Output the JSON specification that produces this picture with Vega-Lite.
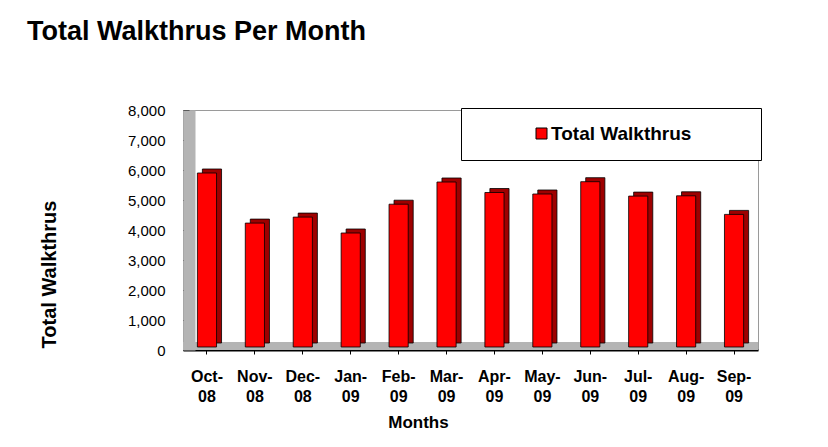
{
  "$schema": "https://vega.github.io/schema/vega-lite/v6.json",
  "width": 575,
  "height": 240,
  "autosize": {"type": "none"},
  "padding": {"left": 183, "top": 110, "right": 70, "bottom": 97},
  "background": "white",
  "config": {"view": {"stroke": "#9a9a9a", "strokeWidth": 1}, "font": "Arial"},
  "title": {"text": "Total Walkthrus Per Month", "anchor": "start", "frame": "group", "font": "Arial", "fontSize": 27, "fontWeight": "bold", "color": "black", "dx": -156, "offset": 36, "baseline": "alphabetic"},
  "data": {"values": [
    {"month": "Oct-08", "walkthrus": 5800},
    {"month": "Nov-08", "walkthrus": 4130},
    {"month": "Dec-08", "walkthrus": 4330},
    {"month": "Jan-09", "walkthrus": 3800},
    {"month": "Feb-09", "walkthrus": 4760},
    {"month": "Mar-09", "walkthrus": 5500},
    {"month": "Apr-09", "walkthrus": 5150},
    {"month": "May-09", "walkthrus": 5100},
    {"month": "Jun-09", "walkthrus": 5510},
    {"month": "Jul-09", "walkthrus": 5030},
    {"month": "Aug-09", "walkthrus": 5040},
    {"month": "Sep-09", "walkthrus": 4420}
  ]},
  "layer": [
    {
      "mark": {"type": "rule", "color": "#b4b4b4", "strokeWidth": 8, "yOffset": -4},
      "encoding": {
        "y": {"datum": 0, "type": "quantitative",
          "scale": {"domain": [0, 8000]},
          "axis": {"title": "Total Walkthrus", "values": [0, 1000, 2000, 3000, 4000, 5000, 6000, 7000, 8000], "format": ",d", "labelOverlap": false,
            "grid": false, "labelFont": "Arial", "labelFontSize": 15, "labelColor": "black", "labelPadding": 18,
            "ticks": true, "tickColor": "black", "tickSize": 6,
            "domainColor": "#b4b4b4", "domainWidth": 12, "offset": -6,
            "titleFont": "Arial", "titleFontSize": 20, "titleFontWeight": "bold", "titleColor": "black",
            "titleAngle": 270, "titleX": -140, "titleY": 164, "titleAlign": "center", "titleBaseline": "middle"}}
      }
    },
    {
      "mark": {"type": "bar", "color": "#9e0000", "stroke": "black", "strokeWidth": 0.8, "xOffset": 5, "yOffset": -7},
      "encoding": {
        "x": {"field": "month", "type": "ordinal", "sort": null,
          "scale": {"paddingInner": 0.6, "paddingOuter": 0.3},
          "axis": {"title": "Months", "labelAngle": 0,
            "labelExpr": "[split(datum.value, '-')[0] + '-', split(datum.value, '-')[1]]",
            "labelFont": "Arial", "labelFontSize": 16, "labelFontWeight": "bold", "labelColor": "black", "labelLineHeight": 20, "labelPadding": 14,
            "ticks": true, "tickColor": "black", "tickSize": 4, "tickWidth": 1,
            "domainColor": "black", "domainWidth": 2,
            "titleFont": "Arial", "titleFontSize": 17, "titleFontWeight": "bold", "titleColor": "black",
            "titleX": 235, "titleY": 77, "titleAlign": "center", "titleBaseline": "alphabetic"}},
        "y": {"field": "walkthrus", "type": "quantitative",
          "scale": {"domain": [0, 8000]},
          "axis": {"title": "Total Walkthrus", "values": [0, 1000, 2000, 3000, 4000, 5000, 6000, 7000, 8000], "format": ",d", "labelOverlap": false,
            "grid": false, "labelFont": "Arial", "labelFontSize": 15, "labelColor": "black", "labelPadding": 18,
            "ticks": true, "tickColor": "black", "tickSize": 6,
            "domainColor": "#b4b4b4", "domainWidth": 12, "offset": -6,
            "titleFont": "Arial", "titleFontSize": 20, "titleFontWeight": "bold", "titleColor": "black",
            "titleAngle": 270, "titleX": -140, "titleY": 164, "titleAlign": "center", "titleBaseline": "middle"}}
      }
    },
    {
      "mark": {"type": "bar", "stroke": "black", "strokeWidth": 0.8, "yOffset": -3},
      "encoding": {
        "x": {"field": "month", "type": "ordinal", "sort": null},
        "y": {"field": "walkthrus", "type": "quantitative",
          "axis": {"title": "Total Walkthrus", "values": [0, 1000, 2000, 3000, 4000, 5000, 6000, 7000, 8000], "format": ",d", "labelOverlap": false,
            "grid": false, "labelFont": "Arial", "labelFontSize": 15, "labelColor": "black", "labelPadding": 18,
            "ticks": true, "tickColor": "black", "tickSize": 6,
            "domainColor": "#b4b4b4", "domainWidth": 12, "offset": -6,
            "titleFont": "Arial", "titleFontSize": 20, "titleFontWeight": "bold", "titleColor": "black",
            "titleAngle": 270, "titleX": -140, "titleY": 164, "titleAlign": "center", "titleBaseline": "middle"}},
        "color": {"datum": "Total Walkthrus", "type": "nominal",
          "scale": {"range": ["#ff0000"]},
          "legend": {"orient": "none", "legendX": 278, "legendY": -2, "title": " ", "titleOrient": "right", "titlePadding": 54,
            "strokeColor": "black", "fillColor": "white", "padding": 16,
            "symbolType": "square", "symbolSize": 121, "symbolStrokeColor": "black", "symbolStrokeWidth": 1, "symbolOffset": 55,
            "labelOffset": 0, "labelFont": "Arial", "labelFontSize": 19, "labelFontWeight": "bold", "labelColor": "black"}}
      }
    }
  ]
}
